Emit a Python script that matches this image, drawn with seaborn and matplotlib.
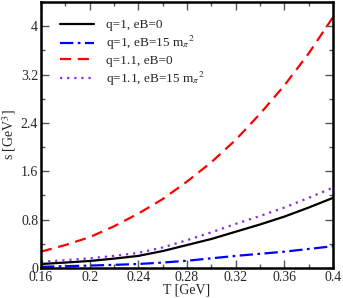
import numpy as np
import pandas as pd
import matplotlib
matplotlib.use("Agg")
import matplotlib.pyplot as plt
from matplotlib.ticker import MultipleLocator, FixedLocator, FixedFormatter
import seaborn as sns

# temperature grid (GeV) and entropy density values
T = [0.16, 0.18, 0.20, 0.22, 0.24, 0.26, 0.28, 0.30, 0.32, 0.34, 0.36, 0.38, 0.40]
s_q1_b0 = [0.066, 0.09, 0.116, 0.155, 0.20, 0.28, 0.38, 0.48, 0.60, 0.72, 0.85, 1.00, 1.16]
s_q1_b15 = [0.02, 0.03, 0.04, 0.052, 0.066, 0.09, 0.12, 0.16, 0.20, 0.235, 0.27, 0.315, 0.36]
s_q11_b0 = [0.27, 0.38, 0.51, 0.69, 0.90, 1.14, 1.43, 1.75, 2.12, 2.55, 3.02, 3.55, 4.15]
s_q11_b15 = [0.10, 0.13, 0.16, 0.20, 0.25, 0.34, 0.46, 0.59, 0.73, 0.86, 1.00, 1.16, 1.33]

labels = ["q=1, eB=0", r"q=1, eB=15 m$_{\pi}$$^{2}$", "q=1.1, eB=0", r"q=1.1, eB=15 m$_{\pi}$$^{2}$"]
colors = ["black", "#0000ff", "#ff0000", "#8a2be2"]
styles = [(None, None), (6, 2, 1.2, 2), (5, 3), (1, 2.2)]

xticks = [0.16, 0.2, 0.24, 0.28, 0.32, 0.36, 0.4]
yticks = [0, 0.8, 1.6, 2.4, 3.2, 4]

sns.set_style("ticks")
plt.rcParams["font.family"] = ["Liberation Serif", "DejaVu Serif"]
plt.rcParams["mathtext.fontset"] = "stix"

fig = plt.figure(figsize=(3.43, 2.98), dpi=100)
ax = fig.add_axes([0.1195, 0.1007, 0.8515, 0.8926])

series = [s_q1_b0, s_q1_b15, s_q11_b0, s_q11_b15]
for vals, lab, col, st in zip(series, labels, colors, styles):
    df = pd.DataFrame({"T": T, "s": vals})
    sns.lineplot(data=df, x="T", y="s", ax=ax, color=col, lw=1.6, label=lab)
    l = ax.get_lines()[-1]
    if st[0] is not None:
        l.set_dashes(st)

ax.set_xlim(0.16, 0.4)
ax.set_ylim(0, 4.4)
ax.xaxis.set_major_locator(FixedLocator(xticks))
ax.xaxis.set_major_formatter(FixedFormatter(["%g" % v for v in xticks]))
ax.xaxis.set_minor_locator(MultipleLocator(0.02))
ax.yaxis.set_major_locator(FixedLocator(yticks))
ax.yaxis.set_major_formatter(FixedFormatter(["%g" % v for v in yticks]))
ax.yaxis.set_minor_locator(MultipleLocator(0.4))
ax.tick_params(which="both", direction="in", top=True, right=True, color="#555555", labelsize=10, pad=2)
ax.tick_params(which="major", length=6, width=1)
ax.tick_params(which="minor", length=3, width=1)
for sp in ax.spines.values():
    sp.set_linewidth(1.8)
    sp.set_color("black")

ax.set_xlabel("T [GeV]", fontsize=10, labelpad=0)
ax.set_ylabel(r"s [GeV$^3$]", fontsize=10, labelpad=2)

leg = ax.legend(loc="upper left", frameon=False, fontsize=9.5, handlelength=2.6,
                handletextpad=0.9, labelspacing=0.2, borderaxespad=0.6,
                bbox_to_anchor=(0.02, 0.985))

fig.savefig("out.png", dpi=100)
